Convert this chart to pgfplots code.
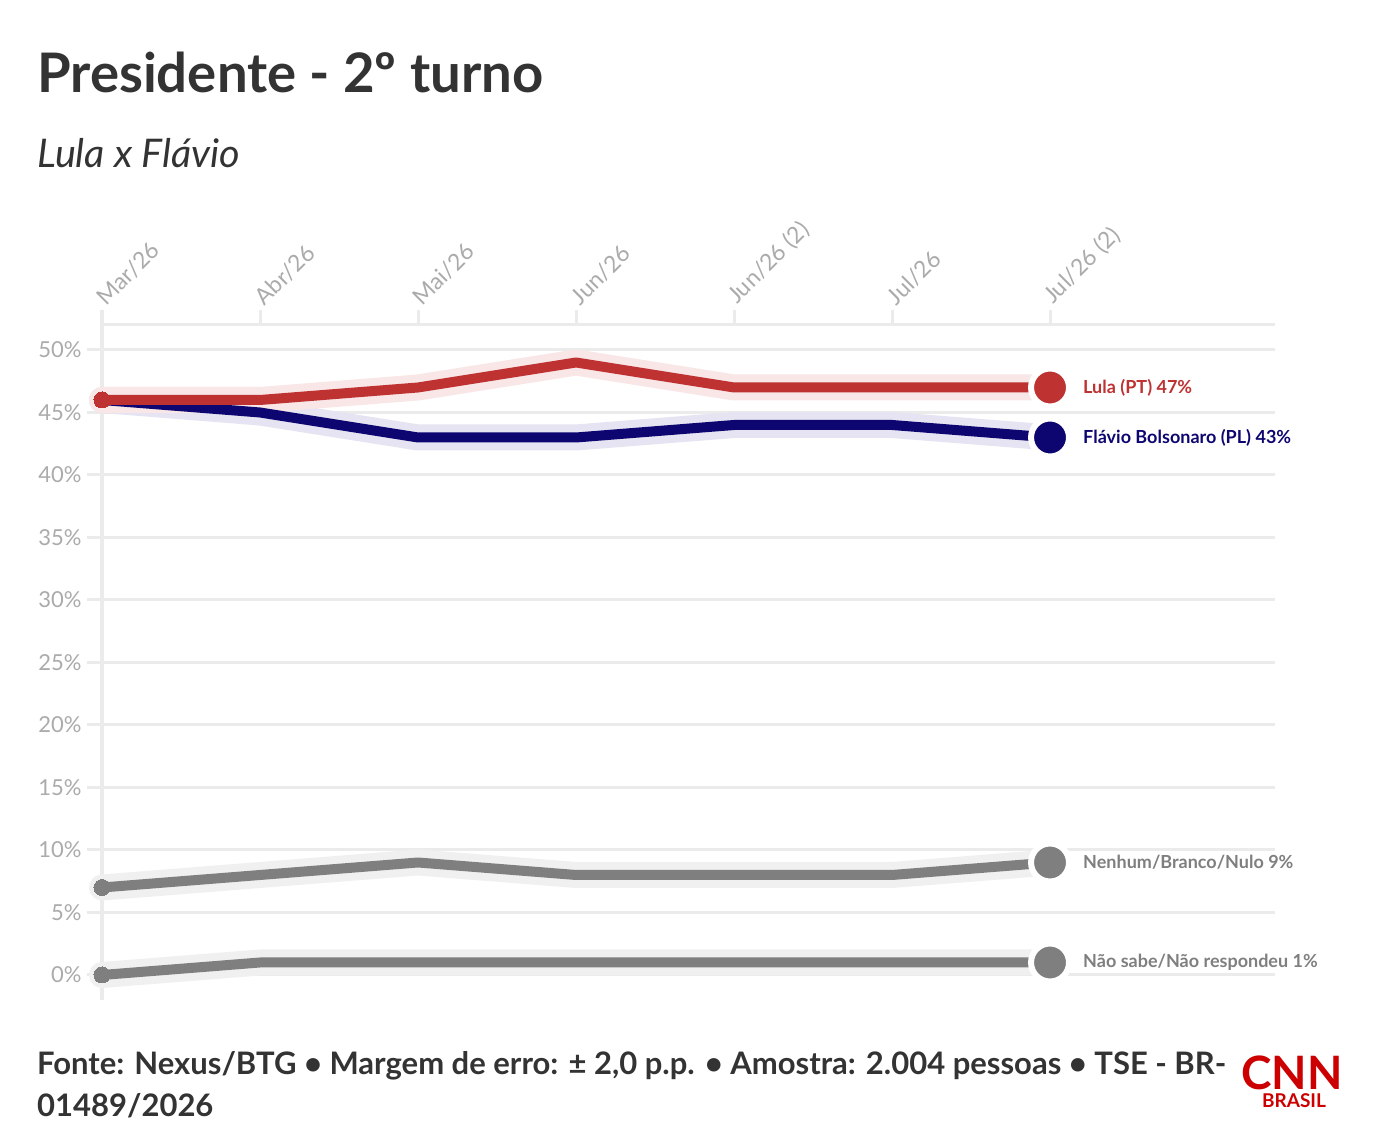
\documentclass[border=0pt]{standalone}
\usepackage{fontspec}
\setmainfont{Lato}
\usepackage{pgfplots}
\pgfplotsset{compat=1.18}
\usepackage{pgfplotstable}

\definecolor{lula}{HTML}{BE3232}
\definecolor{flavio}{HTML}{0E0670}
\definecolor{neutro}{HTML}{7F7F7F}
\definecolor{lulaband}{HTML}{F9E6E6}
\definecolor{flavioband}{HTML}{E6E4F2}
\definecolor{neutroband}{HTML}{F0F0F0}
\definecolor{gridc}{HTML}{EBEBEB}
\definecolor{tickc}{HTML}{ABABAB}
\definecolor{ink}{HTML}{333333}
\definecolor{cnnred}{HTML}{CC0000}

% Nexus/BTG, 2nd round scenario
\pgfplotstableread{
x lula flavio nenhum naosabe
0 46 46 7 0
1 46 45 8 1
2 47 43 9 1
3 49 43 8 1
4 47 44 8 1
5 47 44 8 1
6 47 43 9 1
}\pesquisa

\begin{document}
\begin{tikzpicture}[x=1pt,y=1pt]
\fill[white] (0,0) rectangle (1376,1132);
\useasboundingbox (0,0) rectangle (1376,1132);

\node[anchor=base west, inner sep=0, text=ink, font=\bfseries\fontsize{54.5}{60}\selectfont] at (37,1039) {Presidente - 2º turno};
\node[anchor=base west, inner sep=0, text=ink, font=\itshape\fontsize{39.5}{44}\selectfont] at (37,964) {Lula x Flávio};

\begin{axis}[
  at={(102pt,132pt)}, anchor=south west,
  scale only axis, width=1173pt, height=675pt,
  xmin=0, xmax=7.424, ymin=-2, ymax=52,
  clip=false,
  axis x line=top, axis y line=left,
  axis line style={-, draw=gridc, line width=3pt},
  tick align=outside, major tick length=15pt,
  tick style={draw=gridc, line width=3pt},
  xtick={0,...,6},
  xticklabels={Mar/26,Abr/26,Mai/26,Jun/26,Jun/26 (2),Jul/26,Jul/26 (2)},
  xticklabel style={rotate=45, anchor=south west, text=tickc, font=\fontsize{23}{26}\selectfont, xshift=2.5pt, yshift=-5.5pt},
  ytick={0,5,...,50},
  yticklabel={\pgfmathprintnumber{\tick}\%},
  yticklabel style={text=tickc, font=\fontsize{22}{24}\selectfont, xshift=-2pt},
  /pgf/number format/assume math mode=true,
  ymajorgrids, grid style={draw=gridc, line width=3pt},
  every axis plot/.append style={line join=round},
]
% soft bands behind each series
\addplot[neutroband, line width=26pt, line cap=round] table[x=x,y=naosabe] {\pesquisa};
\addplot[neutroband, line width=26pt, line cap=round] table[x=x,y=nenhum] {\pesquisa};
\addplot[flavioband, line width=26pt, line cap=round] table[x=x,y=flavio] {\pesquisa};
\addplot[lulaband, line width=26pt, line cap=round] table[x=x,y=lula] {\pesquisa};

% series lines with a dot on the first survey
\addplot[neutro, line width=10pt, mark=*, mark indices={1}, mark size=8pt, mark options={line width=0pt}] table[x=x,y=naosabe] {\pesquisa};
\addplot[neutro, line width=10pt, mark=*, mark indices={1}, mark size=8pt, mark options={line width=0pt}] table[x=x,y=nenhum] {\pesquisa};
\addplot[flavio, line width=10pt, mark=*, mark indices={1}, mark size=8pt, mark options={line width=0pt}] table[x=x,y=flavio] {\pesquisa};
\addplot[lula, line width=10pt, mark=*, mark indices={1}, mark size=8pt, mark options={line width=0pt}] table[x=x,y=lula] {\pesquisa};

% end markers on the latest survey
\addplot[only marks, mark=*, mark size=19pt, mark options={fill=neutro, draw=white, line width=6pt}, skip coords between index={0}{6}] table[x=x,y=naosabe] {\pesquisa};
\addplot[only marks, mark=*, mark size=19pt, mark options={fill=neutro, draw=white, line width=6pt}, skip coords between index={0}{6}] table[x=x,y=nenhum] {\pesquisa};
\addplot[only marks, mark=*, mark size=19pt, mark options={fill=flavio, draw=white, line width=6pt}, skip coords between index={0}{6}] table[x=x,y=flavio] {\pesquisa};
\addplot[only marks, mark=*, mark size=19pt, mark options={fill=lula, draw=white, line width=6pt}, skip coords between index={0}{6}] table[x=x,y=lula] {\pesquisa};

\begin{scope}[every node/.style={anchor=west, inner sep=0, xshift=33pt, font=\bfseries\fontsize{18}{20}\selectfont}]
\node[text=lula] at (axis cs:6,47) {Lula (PT) 47\%};
\node[text=flavio] at (axis cs:6,43) {Flávio Bolsonaro (PL) 43\%};
\node[text=neutro] at (axis cs:6,9) {Nenhum/Branco/Nulo 9\%};
\node[text=neutro] at (axis cs:6,1) {Não sabe/Não respondeu 1\%};
\end{scope}
\end{axis}

\node[anchor=base west, inner sep=0, text=ink, font=\bfseries\fontsize{31}{34}\selectfont] at (37,57) {Fonte: Nexus/BTG • Margem de erro: ± 2,0 p.p. • Amostra: 2.004 pessoas • TSE - BR-};
\node[anchor=base west, inner sep=0, text=ink, font=\bfseries\fontsize{31}{34}\selectfont] at (37,15) {01489/2026};

% CNN Brasil mark
\node[anchor=base, inner sep=0, text=cnnred, font=\bfseries\fontsize{46}{50}\selectfont] at (1292,42) {CNN};
\node[anchor=base, inner sep=0, text=cnnred, font=\bfseries\fontsize{19}{20}\selectfont] at (1294,24) {BRASIL};
\end{tikzpicture}
\end{document}
